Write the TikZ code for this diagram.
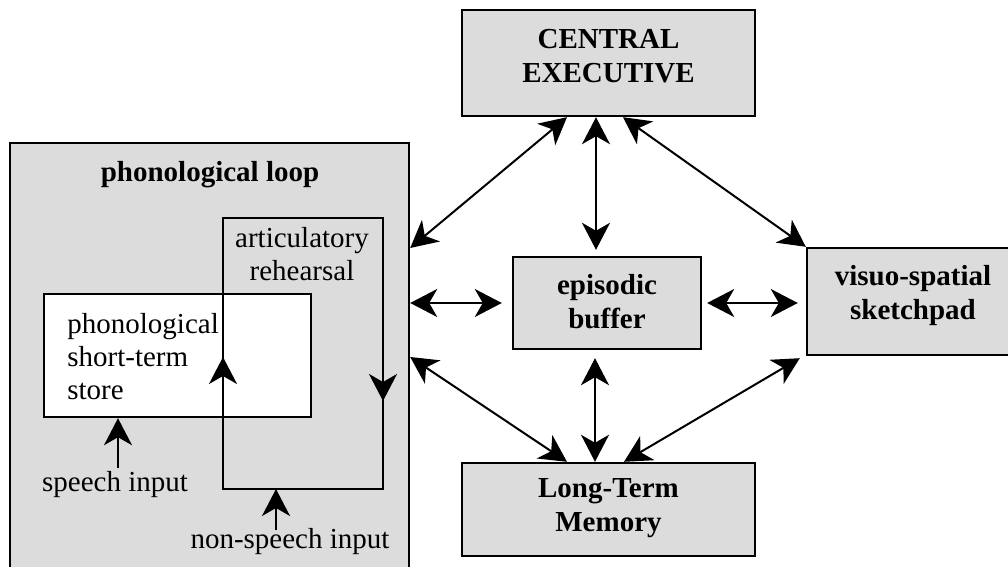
\documentclass[tikz,border=0pt]{standalone}
\usepackage{fontspec}
\setmainfont{Liberation Serif}
\usetikzlibrary{arrows.meta,calc}
\definecolor{boxgray}{RGB}{220,220,220}
\tikzset{
  box/.style={draw, line width=1.2pt, fill=boxgray, inner sep=0pt},
  lbl/.style={inner sep=0pt, font=\fontsize{14.5pt}{16.5pt}\selectfont, align=center},
  blbl/.style={lbl, font=\fontsize{14.5pt}{17pt}\selectfont\bfseries},
  link/.style={line width=1pt, {Stealth[length=13.5pt,width=14pt,inset=4pt]}-{Stealth[length=13.5pt,width=14pt,inset=4pt]}},
  oneway/.style={line width=1pt, -{Stealth[length=13.5pt,width=14pt,inset=4pt]}}
}
\begin{document}
\begin{tikzpicture}[x=0.5pt,y=-0.5pt]
\clip (0,0) rectangle (1008,567);
% boxes
\node[box, minimum width=146.5pt, minimum height=53pt] (ce) at (608.5,63){};
\node[blbl] at (608.5,56){CENTRAL\\EXECUTIVE};
\node[box, minimum width=199.5pt, minimum height=228.5pt] (phono) at (209.5,371.5){};
\node[blbl] (phonolbl) at (210,175){phonological loop};
\node[box, minimum width=94pt, minimum height=46pt] (eb) at (607,303){};
\node[blbl] at (607,302){episodic\\buffer};
\node[box, minimum width=102.5pt, minimum height=53.5pt] (vs) at (909.5,301.5){};
\node[blbl] at (913,296){visuo-spatial\\sketchpad};
\node[box, minimum width=146.5pt, minimum height=46.5pt] (ltm) at (608.5,509.5){};
\node[blbl] at (608.5,508){Long-Term\\Memory};
% inside the loop
\node[box, fill=white, minimum width=133.5pt, minimum height=61.5pt] (sts) at (177.5,355.5){};
\node[lbl, align=left, anchor=west] (ststxt) at (67,357){phonological\\short-term\\store};
\coordinate (rtl) at (223,218);
\coordinate (rtr) at (383,218);
\coordinate (rbr) at (383,489);
\coordinate (rbl) at (223,489);
\coordinate (rdown) at (383,401);
\coordinate (rup) at (223,357);
\draw[line width=1.2pt] (rtl) -- (rtr) -- (rbr) -- (rbl) -- cycle;
\draw[oneway] (rtr) -- (rdown);
\draw[oneway] (rbl) -- (rup);
\node[lbl] (rehtxt) at (302,254){articulatory\\rehearsal};
\node[lbl] (speech) at (115,485){speech input};
\node[lbl] (nonspeech) at (290,542){non-speech input};
\coordinate (spin) at (118,468);
\coordinate (nsin) at (276,530);
\draw[oneway] (spin) -- (spin |- sts.south);
\draw[oneway] (nsin) -- (nsin |- rbl);
% connections
\draw[link] ($(ce.south)+(-41.5,0)$) -- ($(phono.east)+(0,-123.5)$);
\draw[link] ($(ce.south)+(-12.5,0)$) -- ($(eb.north)+(-11,-6)$);
\draw[link] ($(ce.south)+(14.5,0)$) -- (vs.north west);
\draw[link] ($(phono.east)+(0,-68.5)$) -- ($(eb.west)+(-10,0)$);
\draw[link] ($(eb.east)+(5,0)$) -- ($(vs.west)+(-8,1.5)$);
\draw[link] ($(phono.east)+(0,-14.5)$) -- ($(ltm.north)+(-41.5,0)$);
\draw[link] ($(eb.south)+(-12,8)$) -- ($(ltm.north)+(-13.5,0)$);
\draw[link] ($(vs.south west)+(-6,2)$) -- ($(ltm.north)+(15.5,0)$);
\end{tikzpicture}
\end{document}
